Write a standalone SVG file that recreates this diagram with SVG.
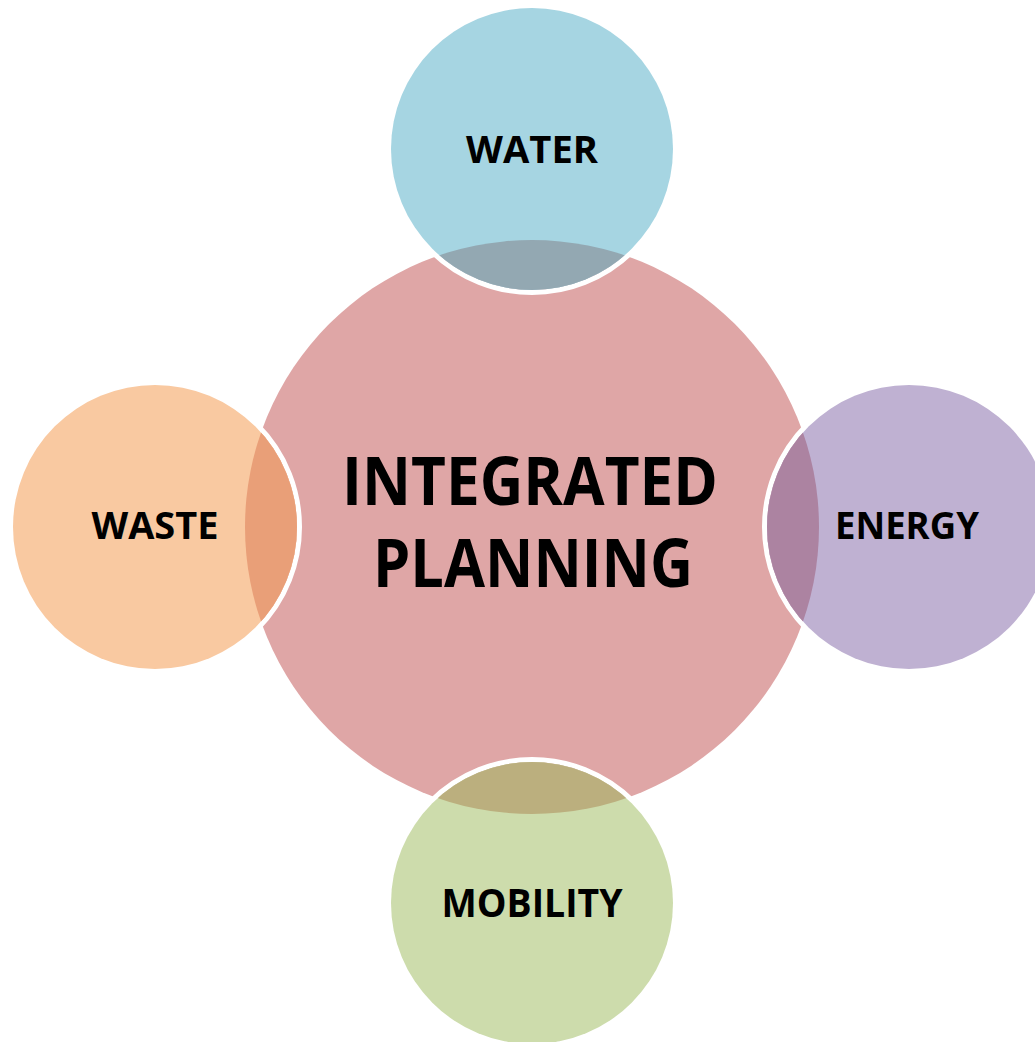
<svg xmlns="http://www.w3.org/2000/svg" width="1035" height="1042" viewBox="0 0 1035 1042">
<style>
.lbl{font-family:"Open Sans","Liberation Sans",sans-serif;font-weight:bold;fill:#000;text-anchor:middle}
.ring{fill:none;stroke:#fff;stroke-width:5}
</style>
<defs>
<clipPath id="cBig"><circle cx="532" cy="527" r="287"/></clipPath>
</defs>
<rect width="1035" height="1042" fill="#fff"/>
<g id="center">
<circle cx="532" cy="527" r="287" fill="#dfa6a6"/>
</g>
<g id="water">
<circle class="ring" cx="532" cy="149" r="143.5"/>
<circle cx="532" cy="149" r="141" fill="#a6d5e2"/>
<circle cx="532" cy="149" r="141" fill="#93a8b2" clip-path="url(#cBig)"/>
<text class="lbl" x="532" y="163" font-size="38" textLength="132" lengthAdjust="spacingAndGlyphs">WATER</text>
</g>
<g id="waste">
<circle class="ring" cx="155" cy="527" r="144.5"/>
<circle cx="155" cy="527" r="142" fill="#f9c9a1"/>
<circle cx="155" cy="527" r="142" fill="#e99f78" clip-path="url(#cBig)"/>
<text class="lbl" x="155" y="539" font-size="37" textLength="127" lengthAdjust="spacingAndGlyphs">WASTE</text>
</g>
<g id="energy">
<circle class="ring" cx="909" cy="527" r="144.5"/>
<circle cx="909" cy="527" r="142" fill="#bfb1d2"/>
<circle cx="909" cy="527" r="142" fill="#ac83a1" clip-path="url(#cBig)"/>
<text class="lbl" x="907" y="539" font-size="37" textLength="144" lengthAdjust="spacingAndGlyphs">ENERGY</text>
</g>
<g id="mobility">
<circle class="ring" cx="532" cy="903" r="143.5"/>
<circle cx="532" cy="903" r="141" fill="#cddcac"/>
<circle cx="532" cy="903" r="141" fill="#bbaf7e" clip-path="url(#cBig)"/>
<text class="lbl" x="532" y="917" font-size="39" textLength="181" lengthAdjust="spacingAndGlyphs">MOBILITY</text>
</g>
<g id="center-label">
<text class="lbl" x="530" y="505" font-size="66" textLength="376" lengthAdjust="spacingAndGlyphs">INTEGRATED</text>
<text class="lbl" x="533" y="587" font-size="66" textLength="320" lengthAdjust="spacingAndGlyphs">PLANNING</text>
</g>
<g id="connectors"/>
</svg>
